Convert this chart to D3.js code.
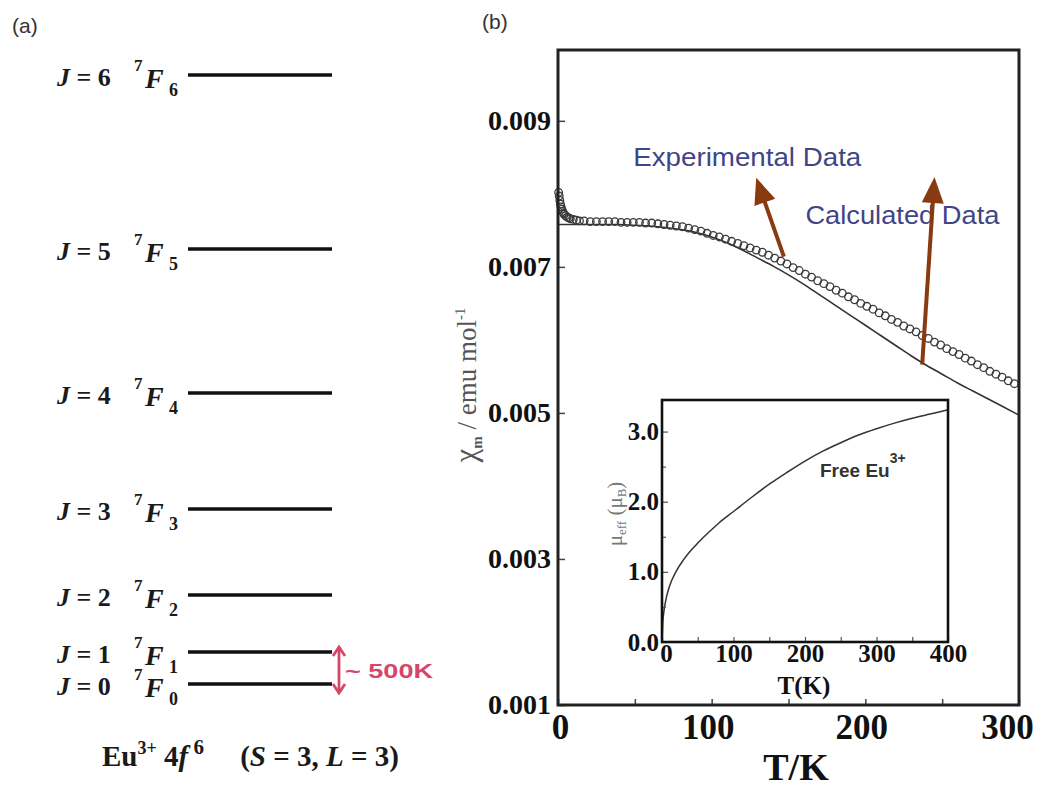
<!DOCTYPE html>
<html>
<head>
<meta charset="utf-8">
<script src="https://cdn.jsdelivr.net/npm/d3@7"></script>
<style>
  body { margin: 0; background: #fff; }
  svg { display: block; }
</style>
</head>
<body>
<svg id="fig" width="1039" height="788"></svg>
<script>
// ---------- panel (a): 7F_J multiplet of Eu3+ ----------
const levelJ = [0, 1, 2, 3, 4, 5, 6];
const levelHeight = [0, 32, 89, 175, 291, 435, 609];   // schematic level spacing
const gapLabel = "~ 500K";

// ---------- panel (b): molar susceptibility vs temperature ----------
const expT = [0.4, 0.8, 1.2, 1.6, 2.0, 2.5, 3, 3.5, 4, 5, 6, 7, 8, 10, 12, 14,
  17, 21, 25, 29, 33, 37, 41, 45, 49, 53, 57, 61, 65, 69, 73, 77, 81, 85, 89, 93, 97,
  101, 105, 109, 113, 117, 121, 125, 129, 133, 137, 141, 145, 149, 153, 157, 161, 165, 169,
  173, 177, 181, 185, 189, 193, 197, 201, 205, 209, 213, 217, 221, 225, 229, 233, 237, 241,
  245, 249, 253, 257, 261, 265, 269, 273, 277, 281, 285, 289, 293, 297];
const expChi = [0.00802, 0.00797, 0.00791, 0.00786, 0.00782, 0.00779, 0.00776, 0.00774, 0.00772, 0.00770, 0.00768, 0.00767, 0.00766, 0.00765, 0.00764, 0.00763,
  0.00763, 0.00762, 0.00762, 0.00762, 0.00762, 0.00762, 0.00761, 0.00761, 0.00761, 0.00761, 0.00760, 0.00760, 0.00759, 0.00758, 0.00757, 0.00756, 0.00755, 0.00753, 0.00751, 0.00749, 0.00746,
  0.00743, 0.00741, 0.00738, 0.00735, 0.00732, 0.00729, 0.00726, 0.00723, 0.00720, 0.00716, 0.00712, 0.00708, 0.00704, 0.00699, 0.00695, 0.00690, 0.00686, 0.00681,
  0.00677, 0.00673, 0.00668, 0.00664, 0.00659, 0.00655, 0.00650, 0.00646, 0.00642, 0.00637, 0.00633, 0.00628, 0.00624, 0.00619, 0.00615, 0.00611, 0.00606, 0.00602,
  0.00597, 0.00593, 0.00588, 0.00584, 0.00580, 0.00575, 0.00571, 0.00566, 0.00562, 0.00557, 0.00553, 0.00549, 0.00544, 0.00540];

const calcT = [0, 10, 20, 30, 40, 50, 60, 70, 80, 90, 100, 110, 120, 130, 140, 150,
  160, 170, 180, 190, 200, 210, 220, 230, 240, 250, 260, 270, 280, 290, 300];
const calcChi = [0.00758, 0.00758, 0.00758, 0.00758, 0.00758, 0.00757, 0.00756, 0.00754, 0.00751, 0.00747, 0.00741, 0.00733, 0.00723, 0.00712, 0.00701, 0.00689,
  0.00676, 0.00662, 0.00648, 0.00634, 0.00620, 0.00606, 0.00592, 0.00578, 0.00565, 0.00553, 0.00541, 0.00530, 0.00519, 0.00508, 0.00497];

const chiTicks = [0.001, 0.003, 0.005, 0.007, 0.009];
const tTicks = [0, 50, 100, 150, 200, 250, 300];
const tLabelled = [0, 100, 200, 300];

// inset: effective moment of the free ion
const insetT  = [0, 1, 2.5, 5, 10, 20, 30, 40, 50, 65, 80, 100, 125, 150, 175, 200, 225, 250, 275, 300, 325, 350, 375, 400];
const insetMu = [0, 0.26, 0.42, 0.58, 0.78, 1.01, 1.17, 1.30, 1.41, 1.56, 1.70, 1.86, 2.06, 2.25, 2.42, 2.58, 2.72, 2.84, 2.95, 3.04, 3.12, 3.19, 3.25, 3.31];
const insetYTicks = [0, 0.5, 1, 1.5, 2, 2.5, 3];
const insetYLabelled = [0, 1, 2, 3];
const insetXTicks = [0, 50, 100, 150, 200, 250, 300, 350, 400];
const insetXLabelled = [0, 100, 200, 300, 400];

// annotation anchors (data coordinates)
const annotations = [
  { text: "Experimental Data", T: 49, chi: 0.00838, width: 228,
    from: [147, 0.00714], to: [129, 0.00822] },
  { text: "Calculated Data", T: 161, chi: 0.00759, width: 194,
    from: [237, 0.00566], to: [245, 0.00823] }
];

const svg = d3.select("#fig");
const SERIF = "'Liberation Serif','Times New Roman',serif";
const SANS = "'Liberation Sans',Arial,sans-serif";

// ================= panel (a) =================
const gA = svg.append("g");
gA.append("text").attr("x", 12).attr("y", 33)
  .attr("font-family", SANS).attr("font-size", 21).attr("fill", "#333").text("(a)");

const yLevel = d3.scaleLinear().domain([0, 609]).range([684, 75]);
const lineX0 = 188, lineX1 = 332;

const lv = gA.selectAll("g.level").data(levelJ.map((J, i) => ({ J, h: levelHeight[i] })))
  .enter().append("g").attr("class", "level")
  .attr("transform", d => `translate(0,${yLevel(d.h)})`);

lv.append("line").attr("x1", lineX0).attr("x2", lineX1).attr("y1", 0).attr("y2", 0)
  .attr("stroke", "#111").attr("stroke-width", 3.3);

const jt = lv.append("text").attr("x", 57).attr("y", 11)
  .attr("font-family", SERIF).attr("font-weight", "bold").attr("font-size", 26).attr("fill", "#1a1a1a");
jt.append("tspan").attr("font-style", "italic").text("J");
jt.append("tspan").text(d => " = " + d.J);

lv.append("text").attr("x", 134).attr("y", -4)
  .attr("font-family", SERIF).attr("font-weight", "bold").attr("font-size", 17).attr("fill", "#1a1a1a").text("7");
lv.append("text").attr("x", 145).attr("y", 13)
  .attr("font-family", SERIF).attr("font-weight", "bold").attr("font-style", "italic")
  .attr("font-size", 28).attr("fill", "#1a1a1a").text("F");
lv.append("text").attr("x", 169).attr("y", 21)
  .attr("font-family", SERIF).attr("font-weight", "bold").attr("font-size", 18).attr("fill", "#1a1a1a")
  .text(d => d.J);

// energy gap between J = 0 and J = 1
const gapColor = "#d4466a";
const gx = 339, gyTop = yLevel(levelHeight[1]) - 5, gyBot = yLevel(levelHeight[0]) + 9;
gA.append("line").attr("x1", gx).attr("x2", gx).attr("y1", gyTop).attr("y2", gyBot)
  .attr("stroke", gapColor).attr("stroke-width", 2.8);
gA.append("path").attr("d", `M${gx - 6},${gyTop + 9}L${gx},${gyTop}L${gx + 6},${gyTop + 9}`)
  .attr("fill", "none").attr("stroke", gapColor).attr("stroke-width", 2.8);
gA.append("path").attr("d", `M${gx - 6},${gyBot - 9}L${gx},${gyBot}L${gx + 6},${gyBot - 9}`)
  .attr("fill", "none").attr("stroke", gapColor).attr("stroke-width", 2.8);
gA.append("text").attr("x", 345).attr("y", (gyTop + gyBot) / 2 + 8)
  .attr("font-family", SANS).attr("font-weight", "bold").attr("font-size", 21)
  .attr("textLength", 88).attr("lengthAdjust", "spacingAndGlyphs")
  .attr("fill", gapColor).text(gapLabel);

// configuration label
const cfg = gA.append("text").attr("x", 102).attr("y", 766)
  .attr("font-family", SERIF).attr("font-weight", "bold").attr("font-size", 29).attr("fill", "#1a1a1a");
cfg.append("tspan").text("Eu");
cfg.append("tspan").attr("font-size", 18).attr("dy", -12).text("3+");
cfg.append("tspan").attr("dy", 12).text(" 4");
cfg.append("tspan").attr("font-style", "italic").text("f");
cfg.append("tspan").attr("font-size", 21).attr("dy", -12).text("\u00a06");
cfg.append("tspan").attr("dy", 12).text("\u00a0\u00a0\u00a0\u00a0\u00a0(");
cfg.append("tspan").attr("font-style", "italic").text("S");
cfg.append("tspan").text(" = 3, ");
cfg.append("tspan").attr("font-style", "italic").text("L");
cfg.append("tspan").text(" = 3)");

// ================= panel (b) =================
const gB = svg.append("g");
gB.append("text").attr("x", 482).attr("y", 29)
  .attr("font-family", SANS).attr("font-size", 21).attr("fill", "#333").text("(b)");

const x = d3.scaleLinear().domain([0, 300]).range([558, 1019]);
const y = d3.scaleLinear().domain([0.001, 0.00997]).range([705, 50]);

// calculated curve
const calcLine = d3.line().x((d, i) => x(calcT[i])).y(d => y(d)).curve(d3.curveMonotoneX);
gB.append("path").datum(calcChi).attr("d", calcLine)
  .attr("fill", "none").attr("stroke", "#333").attr("stroke-width", 1.6);

// experimental points
gB.selectAll("circle.exp").data(expChi).enter().append("circle").attr("class", "exp")
  .attr("cx", (d, i) => x(expT[i])).attr("cy", d => y(d)).attr("r", 3.8)
  .attr("fill", "none").attr("stroke", "#3a3a3a").attr("stroke-width", 1.3);

// left axis
const yAxis = d3.axisLeft(y).tickValues(chiTicks).tickSize(-7).tickPadding(11)
  .tickFormat(d3.format(".3f"));
const gy = gB.append("g").attr("transform", `translate(${x(0)},0)`).call(yAxis);
gy.select(".domain").remove();
gy.selectAll(".tick line").attr("stroke", "#444").attr("stroke-width", 1.5);
gy.selectAll(".tick text").attr("font-family", SERIF).attr("font-weight", "bold")
  .attr("font-size", 28).attr("fill", "#111").attr("x", -7);

// bottom axis
const xAxis = d3.axisBottom(x).tickValues(tTicks).tickSize(-6).tickPadding(6)
  .tickFormat(d => tLabelled.includes(d) ? d : "");
const gx2 = gB.append("g").attr("transform", `translate(0,${y(0.001)})`).call(xAxis);
gx2.select(".domain").remove();
gx2.selectAll(".tick line").attr("stroke", "#444").attr("stroke-width", 1.5);
gx2.selectAll(".tick text").attr("font-family", SERIF).attr("font-weight", "bold")
  .attr("font-size", 35).attr("fill", "#111").attr("dy", "0.85em").attr("y", 4).attr("dx", -4);
gx2.selectAll(".tick text").filter(d => d === 300).attr("dx", -12);
gx2.selectAll(".tick text").filter(d => d === 0).attr("dx", 2);

// frame
gB.append("rect").attr("x", x(0)).attr("y", y(0.00997))
  .attr("width", x(300) - x(0)).attr("height", y(0.001) - y(0.00997))
  .attr("fill", "none").attr("stroke", "#222").attr("stroke-width", 3);

// axis titles
gB.append("text").attr("x", 796).attr("y", 780).attr("text-anchor", "middle")
  .attr("font-family", SERIF).attr("font-weight", "bold").attr("font-size", 38).attr("fill", "#111")
  .text("T/K");

const yl = gB.append("text").attr("transform", "translate(476,385) rotate(-90)")
  .attr("text-anchor", "middle").attr("font-family", SERIF).attr("font-size", 27).attr("fill", "#555");
yl.append("tspan").attr("font-size", 31).text("\u03c7");
yl.append("tspan").attr("font-size", 15).attr("font-weight", "bold").attr("dy", 6).text("m");
yl.append("tspan").attr("dy", -6).text(" / emu mol");
yl.append("tspan").attr("font-size", 15).attr("dy", -11).text("-1");

// annotations
const annColor = "#3f4587", arrowColor = "#8a3a10";
annotations.forEach(a => {
  gB.append("text").attr("x", x(a.T)).attr("y", y(a.chi))
    .attr("font-family", SANS).attr("font-size", 26).attr("fill", annColor)
    .attr("textLength", a.width).attr("lengthAdjust", "spacingAndGlyphs").text(a.text);
  const x1 = x(a.from[0]), y1 = y(a.from[1]), x2 = x(a.to[0]), y2 = y(a.to[1]);
  const len = Math.hypot(x2 - x1, y2 - y1), ux = (x2 - x1) / len, uy = (y2 - y1) / len;
  const hl = 26, hw = 11;
  const bx = x2 - ux * hl, by = y2 - uy * hl;
  gB.append("line").attr("x1", x1).attr("y1", y1).attr("x2", bx + ux * 2).attr("y2", by + uy * 2)
    .attr("stroke", arrowColor).attr("stroke-width", 4);
  gB.append("path")
    .attr("d", `M${x2},${y2}L${bx - uy * hw},${by + ux * hw}L${bx + uy * hw},${by - ux * hw}Z`)
    .attr("fill", arrowColor);
});

// ================= inset =================
const gI = svg.append("g");
const xi = d3.scaleLinear().domain([0, 400]).range([662, 948]);
const yi = d3.scaleLinear().domain([0, 3.45]).range([642, 400]);

gI.append("rect").attr("x", xi(0)).attr("y", yi(3.45)).attr("width", xi(400) - xi(0))
  .attr("height", yi(0) - yi(3.45)).attr("fill", "#fff");

const muLine = d3.line().x((d, i) => xi(insetT[i])).y(d => yi(d)).curve(d3.curveMonotoneX);
gI.append("path").datum(insetMu).attr("d", muLine)
  .attr("fill", "none").attr("stroke", "#333").attr("stroke-width", 1.5);

const yiAxis = d3.axisLeft(yi).tickValues(insetYTicks).tickSize(-5).tickPadding(5)
  .tickFormat(d => insetYLabelled.includes(d) ? d3.format(".1f")(d) : "");
const gyi = gI.append("g").attr("transform", `translate(${xi(0)},0)`).call(yiAxis);
gyi.select(".domain").remove();
gyi.selectAll(".tick line").attr("stroke", "#555").attr("stroke-width", 1.2)
  .attr("x2", d => insetYLabelled.includes(d) ? 6 : 4);
gyi.selectAll(".tick text").attr("font-family", SERIF).attr("font-weight", "bold")
  .attr("font-size", 25).attr("fill", "#111").attr("x", -3);

const xiAxis = d3.axisBottom(xi).tickValues(insetXTicks).tickSize(-5).tickPadding(3)
  .tickFormat(d => insetXLabelled.includes(d) ? d : "");
const gxi = gI.append("g").attr("transform", `translate(0,${yi(0)})`).call(xiAxis);
gxi.select(".domain").remove();
gxi.selectAll(".tick line").attr("stroke", "#555").attr("stroke-width", 1.2);
gxi.selectAll(".tick text").attr("font-family", SERIF).attr("font-weight", "bold")
  .attr("font-size", 25).attr("fill", "#111").attr("y", 2);
gxi.selectAll(".tick text").filter(d => d === 0).attr("dx", 4);

gI.append("rect").attr("x", xi(0)).attr("y", yi(3.45)).attr("width", xi(400) - xi(0))
  .attr("height", yi(0) - yi(3.45)).attr("fill", "none").attr("stroke", "#111").attr("stroke-width", 2.6);

gI.append("text").attr("x", 804).attr("y", 694).attr("text-anchor", "middle")
  .attr("font-family", SERIF).attr("font-weight", "bold").attr("font-size", 25).attr("fill", "#111")
  .text("T(K)");

const myl = gI.append("text").attr("transform", "translate(622,514) rotate(-90)")
  .attr("text-anchor", "middle").attr("font-family", SERIF).attr("font-size", 21).attr("fill", "#777");
myl.append("tspan").text("\u03bc");
myl.append("tspan").attr("font-size", 13).attr("dy", 4).text("eff");
myl.append("tspan").attr("dy", -4).text(" (\u03bc");
myl.append("tspan").attr("font-size", 13).attr("dy", 4).text("B");
myl.append("tspan").attr("dy", -4).text(")");

const fe = gI.append("text").attr("x", 820).attr("y", 477)
  .attr("font-family", SANS).attr("font-weight", "bold").attr("font-size", 19).attr("fill", "#333");
fe.append("tspan").text("Free Eu");
fe.append("tspan").attr("font-size", 14).attr("dy", -14).text("3+");
</script>
</body>
</html>
